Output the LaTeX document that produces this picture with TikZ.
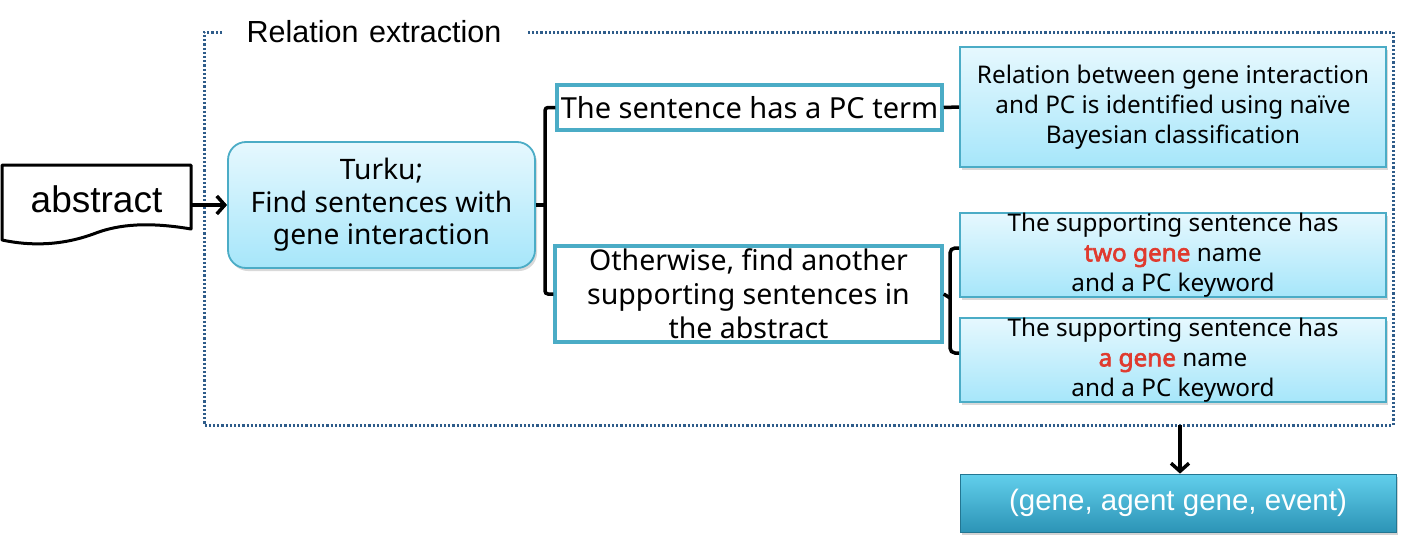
\documentclass[tikz,border=0pt]{standalone}
\usepackage{fontspec}
\setmainfont{Noto Sans}
\newfontfamily\arialf{Liberation Sans}
\newfontfamily\boldnoto{Noto Sans}[FakeBold=2.5]
\usetikzlibrary{arrows.meta,shadows,calc}
\definecolor{boxline}{HTML}{4BACC6}
\definecolor{frameblue}{HTML}{2E5C8A}
\definecolor{lighttop}{HTML}{E6F8FE}
\definecolor{lightbot}{HTML}{A6E6FA}
\definecolor{darktop}{HTML}{62CFEC}
\definecolor{darkbot}{HTML}{2C94B6}
\definecolor{redtxt}{HTML}{E03A2E}
\newcommand{\redword}[1]{{\boldnoto\color{redtxt}#1}}
\begin{document}
\begin{tikzpicture}[x=1pt,y=-1pt,
  lightbox/.style={draw=boxline, line width=1.8pt, top color=lighttop, bottom color=lightbot,
    drop shadow={shadow xshift=2pt, shadow yshift=-3pt, opacity=0.3}, align=center, inner sep=0pt},
  whitebox/.style={draw=boxline, line width=3.5pt, fill=white, align=center, inner sep=0pt},
  conn/.style={line width=3.5pt, black},
  arr/.style={line width=3.5pt, black, -{Straight Barb[length=8pt,width=18pt]}}]
\useasboundingbox (0,0) rectangle (1406,549);
% frame
\draw[frameblue, line width=3pt, dash pattern=on 2.2pt off 2pt] (222,32) -- (204,32) -- (204,425) -- (1393,425) -- (1393,32) -- (527,32);
\node[font=\arialf\fontsize{30.5}{34}\selectfont, inner sep=0pt] (title) at (374,32) {Relation\hspace{0.35em}extraction};
\coordinate (fb) at (1180,425);
% abstract document
\node[minimum width=189pt, minimum height=66pt, inner sep=0pt, font=\arialf\fontsize{37}{40}\selectfont] (abs) at (96.5,199) {abstract};
\draw[line width=3pt, black, line join=round] (2,165) -- (191,165) -- (191,229)
  .. controls (150,222) and (120,224) .. (96,233)
  .. controls (62,246) and (30,246) .. (2,240) -- cycle;
% Turku
\node[lightbox, rounded corners=18pt, minimum width=307pt, minimum height=126pt,
  font=\fontsize{28.2}{32.5}\selectfont] (turku) at (381.5,205) {Turku;\\Find sentences with\\gene interaction};
\draw[arr] (abs.east |- turku.west) -- (turku.west);
% PC term box
\node[whitebox, minimum width=385pt, minimum height=45pt, font=\fontsize{29}{32}\selectfont] (pc) at (749.5,107.5) {The sentence has a PC term};
% Otherwise box
\node[whitebox, minimum width=387pt, minimum height=96pt, font=\fontsize{28.5}{34}\selectfont] (oth) at (748.5,294) {Otherwise, find another\\supporting sentences in\\the abstract};
% bracket 1
\coordinate (b1) at (545,205);
\draw[conn] (turku.east) -- (b1);
\draw[conn, rounded corners=3pt] (pc.west) -| (b1) |- (oth.west);
% Relation box
\node[lightbox, minimum width=426pt, minimum height=120pt, font=\fontsize{24.3}{30}\selectfont] (rel) at (1173,107) {Relation between gene interaction\\and PC is identified using naïve\\Bayesian classification};
\draw[conn] (pc.east) -- (rel.west);
% supporting boxes
\node[lightbox, minimum width=426pt, minimum height=82pt, font=\fontsize{24.3}{30}\selectfont] (s3) at (1173,255) {The supporting sentence has\\\redword{two gene} name\\and a PC keyword};
\node[lightbox, minimum width=426pt, minimum height=84pt, font=\fontsize{24.3}{30}\selectfont] (s4) at (1173,360) {The supporting sentence has\\\redword{a gene} name\\and a PC keyword};
% bracket 2
\coordinate (b2) at (950,298);
\draw[conn] (oth.east) -- (b2);
\draw[conn, rounded corners=5pt] ([yshift=7pt]s3.west) -| (b2) |- ([yshift=7pt]s4.west);
% output box
\node[draw=darkbot!80!black, line width=0.8pt, top color=darktop, bottom color=darkbot, text=white,
  minimum width=436pt, minimum height=58pt, inner sep=0pt,
  drop shadow={shadow xshift=2pt, shadow yshift=-3pt, opacity=0.35},
  font=\arialf\fontsize{29.5}{32}\selectfont] (out) at (1178,503) {(gene, agent gene, event)};
\draw[arr] (fb) -- (out.north -| fb);
\end{tikzpicture}
\end{document}
